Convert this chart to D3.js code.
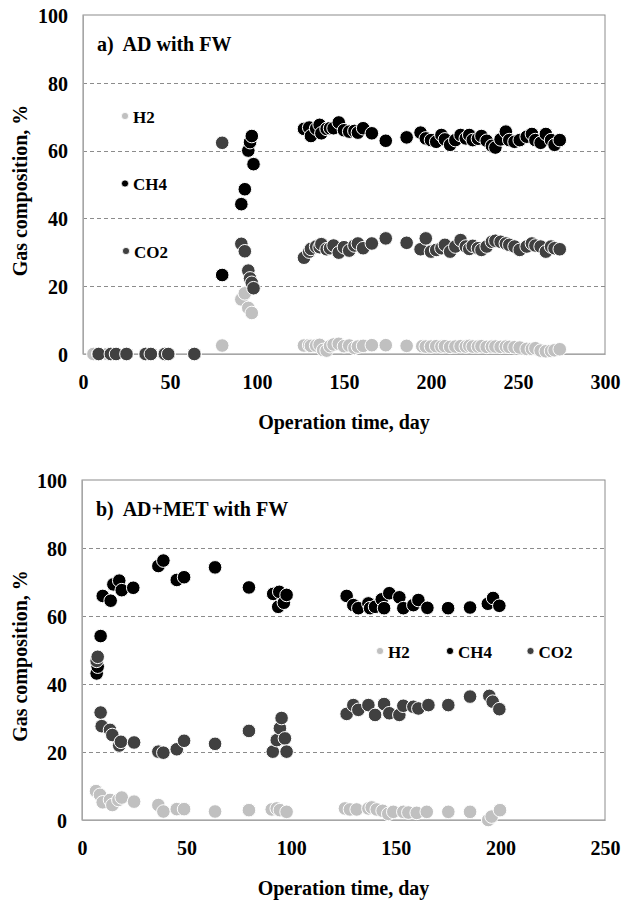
<!DOCTYPE html>
<html>
<head>
<meta charset="utf-8">
<script src="https://cdn.jsdelivr.net/npm/d3@7"></script>
<style>
  html, body { margin: 0; padding: 0; background: #fff; }
  svg text { font-family: "Liberation Serif", "Times New Roman", serif; font-weight: bold; fill: #000; white-space: pre; }
</style>
</head>
<body>
<svg id="chart" width="635" height="900"></svg>
<script>
// ---- data ----------------------------------------------------------------
const gases = ["H2", "CH4", "CO2"];
const gasColors = ["#c0c0c0", "#000000", "#404040"];
const yTicks = [0, 20, 40, 60, 80, 100];
const xTicksA = [0, 50, 100, 150, 200, 250, 300];
const xTicksB = [0, 50, 100, 150, 200, 250];
const titleA = "a)  AD with FW";
const titleB = "b)  AD+MET with FW";
const xTitle = "Operation time, day";
const yTitle = "Gas composition, %";

// a) AD with FW — [day, %]
const aH2 = [[6,0],[9,0],[14,0],[16,0],[19,0],[25,0],[36,0],[39,0],[47,0],[49,0],[64,0],
  [80,2.5],[91,16.1],[93,17.9],[95,13.6],[97,12.1],
  [127,2.5],[130,2.6],[131,2.4],[134,2.5],[136,2.7],[138,1.2],[140,1.0],[142,2.3],[144,2.8],[147,3.0],
  [150,2.3],[153,2.5],[156,1.8],[158,2.2],[161,2.4],[166,2.6],[174,2.6],[186,2.4],[195,2.3],[197,2.2],
  [200,2.2],[203,2.3],[206,2.2],[208,2.3],[211,2.1],[214,2.2],[217,2.3],[220,2.2],[222,2.4],[224,2.2],
  [227,2.2],[229,2.3],[232,2.1],[235,2.2],[237,2.2],[240,2.1],[243,2.2],[245,2.1],[248,2.0],[251,1.9],
  [255,1.5],[258,1.5],[260,1.7],[263,1.0],[266,0.8],[269,0.9],[271,1.1],[274,1.4]];
const aCH4 = [[9,0],[16,0],[19,0],[25,0],[36,0],[39,0],[47,0],[49,0],[64,0],
  [80,23.3],[91,44.2],[93,48.6],[95,60.0],[96,62.5],[97,64.3],[98,56.0],
  [127,66.4],[130,66.8],[131,64.3],[134,66.5],[136,67.6],[137,65.1],[140,66.4],[142,66.6],[144,66.6],[147,68.3],
  [150,66.0],[153,65.6],[156,65.8],[158,65.3],[161,66.6],[166,65.1],[174,62.9],[186,63.9],[194,65.3],[197,63.6],
  [200,63.1],[203,62.6],[206,64.6],[208,63.3],[211,61.7],[214,63.1],[217,64.6],[220,63.6],[222,64.6],[224,63.1],
  [227,63.5],[229,64.3],[232,62.9],[235,61.4],[237,60.9],[240,63.3],[243,65.6],[245,63.1],[248,62.6],[251,63.1],
  [255,64.1],[258,64.9],[260,63.1],[263,62.3],[266,64.9],[269,63.1],[271,61.7],[274,63.1]];
const aCO2 = [[9,0],[16,0],[19,0],[25,0],[36,0],[39,0],[47,0],[49,0],[64,0],
  [80,62.3],[91,32.5],[93,30.3],[95,24.6],[96,22.3],[97,21.0],[98,19.4],
  [127,28.4],[130,30.2],[131,31.0],[134,31.7],[136,31.5],[137,32.4],[140,30.9],[142,31.2],[144,32.0],[147,29.9],
  [150,31.5],[153,30.5],[156,32.0],[158,32.6],[161,31.2],[166,32.6],[174,34.1],[186,32.8],[194,30.9],[197,34.1],
  [200,30.2],[203,30.7],[206,31.2],[208,32.2],[211,30.2],[214,31.7],[217,33.6],[220,31.7],[222,31.0],[224,31.9],
  [227,31.2],[229,30.7],[232,31.7],[235,33.1],[237,33.4],[240,33.1],[243,32.6],[245,32.2],[248,31.7],[251,30.7],
  [255,31.7],[258,32.6],[260,32.0],[263,31.7],[266,30.2],[269,31.7],[271,31.2],[274,30.9]];

// b) AD+MET with FW — [day, %]
const bH2 = [[6.7,8.5],[8.6,7.4],[9.9,5.2],[13.4,5.9],[14.5,4.4],[17.4,5.9],[19,6.6],[24.9,5.4],
  [36.5,4.4],[38.9,2.5],[45.3,3.2],[48.8,3.2],[63.6,2.5],[79.8,2.9],[90.7,3.1],[93.1,3.4],[94.6,2.9],[97.8,2.4],
  [125.7,3.4],[128.1,3.1],[131.3,3.1],[136.9,3.4],[138.5,3.7],[140.9,3.1],[143.7,2.7],[146.4,1.8],[148.8,2.4],
  [153.6,2.4],[156,2.2],[160,2.1],[164.8,2.4],[175.1,2.4],[185.5,2.4],[194.2,0],[195.8,1.0],[199.8,2.9]];
const bCH4 = [[7,43.1],[7.5,45.1],[8.9,54.1],[9.9,65.9],[13.7,64.5],[15,69.3],[17.8,70.4],[19,67.6],[24.5,68.3],
  [36.5,74.7],[38.9,76.3],[45.3,70.6],[48.8,71.4],[63.6,74.3],[79.8,68.4],[91.4,66.5],[93.8,62.7],[94.3,67.1],
  [96.5,63.9],[97.8,66.2],[126.5,65.9],[129.7,63.2],[132.1,62.3],[136.9,63.7],[137.7,62.3],[140.1,62.7],
  [143.3,64.9],[144.4,62.3],[146.9,66.7],[151.7,65.5],[153.6,62.3],[158.4,63.2],[160.8,64.7],[165.1,62.4],
  [175,62.3],[185.5,62.5],[194,63.6],[196.5,65.3],[199.5,63.0]];
const bCO2 = [[7,46.8],[7.5,48.0],[8.9,31.6],[9.4,27.6],[13.4,26.5],[14.5,25.0],[17.8,21.9],[18.6,23.0],[24.9,22.8],
  [36.5,20.1],[38.9,19.8],[45.3,20.8],[48.8,23.3],[63.6,22.4],[79.8,26.2],[91.2,20.1],[93.1,23.5],[94.6,27.0],
  [95.4,30.0],[97,24.0],[97.8,20.1],[126.5,31.2],[129.7,33.8],[132.1,32.4],[136.9,33.8],[140.1,30.9],[144.4,34.1],
  [146.9,31.4],[151.7,30.9],[153.6,33.6],[158.4,33.3],[160.8,32.8],[165.6,33.8],[175.1,33.8],[185.5,36.3],
  [194.7,36.5],[196.3,34.8],[199.5,32.6]];

// ---- drawing -------------------------------------------------------------
const svg = d3.select("#chart");

function drawPanel(opt) {
  const { box, xMax, xTicks, title, series, legend } = opt;
  const x = d3.scaleLinear().domain([0, xMax]).range([box.left, box.right]);
  const y = d3.scaleLinear().domain([0, 100]).range([box.bottom, box.top]);
  const g = svg.append("g");

  // plot frame
  g.append("rect")
    .attr("x", box.left).attr("y", box.top)
    .attr("width", box.right - box.left).attr("height", box.bottom - box.top)
    .attr("fill", "none").attr("stroke", "#8c8c8c").attr("stroke-width", 1);

  // dashed gridlines
  g.selectAll("line.grid").data(yTicks.filter(t => t > 0 && t < 100)).join("line")
    .attr("x1", box.left).attr("x2", box.right)
    .attr("y1", d => Math.round(y(d)) + 0.5).attr("y2", d => Math.round(y(d)) + 0.5)
    .attr("stroke", "#8c8c8c").attr("stroke-width", 1).attr("stroke-dasharray", "4,3");

  // axes (labels only, no tick marks)
  const yAxis = d3.axisLeft(y).tickValues(yTicks).tickSize(0).tickPadding(15);
  const ya = g.append("g").attr("transform", `translate(${box.left},0)`).call(yAxis);
  ya.select(".domain").attr("stroke", "#a6a6a6");
  ya.selectAll("text").attr("font-size", 20).attr("dy", "0.36em")
    .style("font-family", "'Liberation Serif', serif").style("font-weight", "bold");

  const xAxis = d3.axisBottom(x).tickValues(xTicks).tickSize(0).tickPadding(21);
  const xa = g.append("g").attr("transform", `translate(0,${box.bottom})`).call(xAxis);
  xa.select(".domain").attr("stroke", "#a6a6a6");
  xa.selectAll("text").attr("font-size", 20)
    .style("font-family", "'Liberation Serif', serif").style("font-weight", "bold");

  // axis titles
  g.append("text").attr("x", (box.left + box.right) / 2).attr("y", box.bottom + 75)
    .attr("text-anchor", "middle").attr("font-size", 20).text(xTitle);
  g.append("text")
    .attr("transform", `translate(27,${(box.top + box.bottom) / 2 + 6}) rotate(-90)`)
    .attr("text-anchor", "middle").attr("font-size", 20).text(yTitle);

  // panel title
  g.append("text").attr("x", box.left + 14).attr("y", box.top + 36)
    .attr("font-size", 20).attr("xml:space", "preserve").text(title);

  // markers: H2, CH4, CO2 in that drawing order
  series.forEach((pts, i) => {
    g.append("g").selectAll("circle").data(pts).join("circle")
      .attr("cx", d => x(d[0])).attr("cy", d => y(d[1])).attr("r", 6.8)
      .attr("fill", gasColors[i]).attr("stroke", "#fff").attr("stroke-width", 1);
  });

  // legend
  legend.forEach((p, i) => {
    g.append("circle").attr("cx", p[0]).attr("cy", p[1]).attr("r", 3.6)
      .attr("fill", gasColors[i]).attr("stroke", "#fff").attr("stroke-width", 0.8);
    g.append("text").attr("x", p[0] + 8).attr("y", p[1] + 6.5)
      .attr("font-size", 17).text(gases[i]);
  });
}

drawPanel({
  box: { left: 83, right: 605, top: 15, bottom: 354 },
  xMax: 300, xTicks: xTicksA, title: titleA,
  series: [aH2, aCH4, aCO2],
  legend: [[125, 116], [125, 183.5], [126, 251]]
});

drawPanel({
  box: { left: 82, right: 605, top: 480, bottom: 820 },
  xMax: 250, xTicks: xTicksB, title: titleB,
  series: [bH2, bCH4, bCO2],
  legend: [[380, 651], [450, 651], [530.5, 651]]
});
</script>
</body>
</html>
